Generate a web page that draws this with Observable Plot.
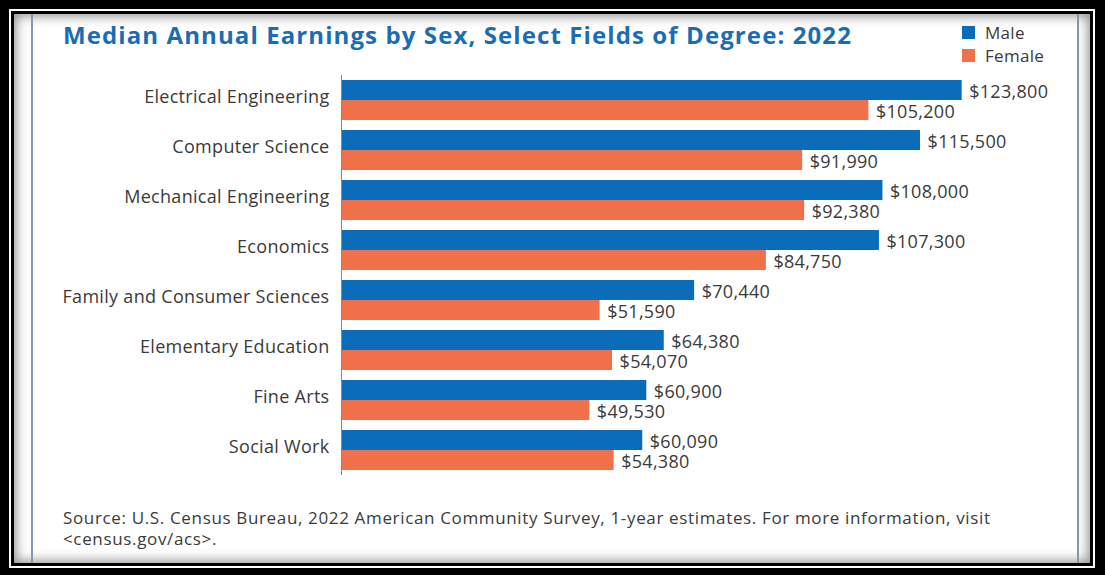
<!DOCTYPE html>
<html>
<head>
<meta charset="utf-8">
<script src="https://cdn.jsdelivr.net/npm/d3@7"></script>
<script src="https://cdn.jsdelivr.net/npm/@observablehq/plot@0.6"></script>
<style>
  html, body { margin: 0; padding: 0; background: #000; }
  #frame { position: relative; width: 1105px; height: 575px; background: #000; overflow: hidden; font-family: "Open Sans", sans-serif; }
  #w1 { position: absolute; left: 9px; top: 9px; width: 1086px; height: 559px; background: #fff; }
  #b1 { position: absolute; left: 11px; top: 11px; width: 1082px; height: 555px; background: #000; }
  #page { position: absolute; left: 14px; top: 14px; width: 1076px; height: 549px; background: #fff; box-shadow: inset 0 0 12px 2px rgba(0,0,0,0.45); }
  .vline { position: absolute; top: 14px; height: 549px; width: 1.5px; background: #8696b0; }
  #title { position: absolute; left: 63px; top: 18px; font-weight: 700; font-size: 24px; letter-spacing: 1.1px; color: #1a6db4; white-space: nowrap; }
  #legend { position: absolute; left: 962px; top: 21px; font-size: 17px; letter-spacing: 0.3px; color: #3a3a3a; }
  #legend div { display: flex; align-items: center; height: 23px; }
  #legend span.sw { display: inline-block; width: 13px; height: 13px; margin-right: 10px; }
  #chart { position: absolute; left: 0; top: 60px; }
  #caption { position: absolute; left: 63px; top: 507px; font-size: 17px; letter-spacing: 0.65px; line-height: 21px; color: #3a3a3a; white-space: nowrap; }
</style>
</head>
<body>
<div id="frame">
  <div id="w1"></div>
  <div id="b1"></div>
  <div id="page"></div>
  <div class="vline" style="left:31px"></div>
  <div class="vline" style="left:1077px"></div>
  <div id="title">Median Annual Earnings by Sex, Select Fields of Degree: 2022</div>
  <div id="legend"></div>
  <div id="chart"></div>
  <div id="caption">Source: U.S. Census Bureau, 2022 American Community Survey, 1-year estimates. For more information, visit<br>&lt;census.gov/acs&gt;.</div>
</div>
<script>
const fields = ["Electrical Engineering", "Computer Science", "Mechanical Engineering", "Economics",
  "Family and Consumer Sciences", "Elementary Education", "Fine Arts", "Social Work"];
const male = [123800, 115500, 108000, 107300, 70440, 64380, 60900, 60090];
const female = [105200, 91990, 92380, 84750, 51590, 54070, 49530, 54380];
const seriesNames = ["Male", "Female"];
const seriesColors = ["#0b6cba", "#f0704a"];

const data = fields.map((f, i) => ({field: f, male: male[i], female: female[i]}));
const fmt = v => "$" + d3.format(",")(v);

// legend
const leg = document.getElementById("legend");
seriesNames.forEach((s, i) => {
  const row = document.createElement("div");
  row.innerHTML = `<span class="sw" style="background:${seriesColors[i]}"></span>${s}`;
  leg.appendChild(row);
});

const chart = Plot.plot({
  width: 1105,
  height: 440,
  marginLeft: 341,
  marginRight: 12,
  marginTop: 15,
  marginBottom: 25,
  style: {fontFamily: "Open Sans, sans-serif", background: "transparent", color: "#3a3a3a", letterSpacing: "0.3px"},
  x: {domain: [0, 150000], axis: null},
  y: {domain: fields, paddingInner: 0.2, paddingOuter: 0.1, axis: null},
  marks: [
    Plot.barX(data, {x: "male", y: "field", fill: seriesColors[0], insetBottom: 20}),
    Plot.barX(data, {x: "female", y: "field", fill: seriesColors[1], insetTop: 20}),
    Plot.ruleX([0], {stroke: "#888", strokeWidth: 1}),
    Plot.text(data, {x: "male", y: "field", text: d => fmt(d.male), dx: 7, dy: -8.5, textAnchor: "start", fontSize: 18, fill: "#3a3a3a"}),
    Plot.text(data, {x: "female", y: "field", text: d => fmt(d.female), dx: 7, dy: 12, textAnchor: "start", fontSize: 18, fill: "#3a3a3a"}),
    Plot.axisY({tickSize: 0, tickPadding: 12, dy: -3.5, fontSize: 18, label: null, fill: "#3a3a3a"})
  ]
});
document.getElementById("chart").appendChild(chart);
</script>
</body>
</html>
